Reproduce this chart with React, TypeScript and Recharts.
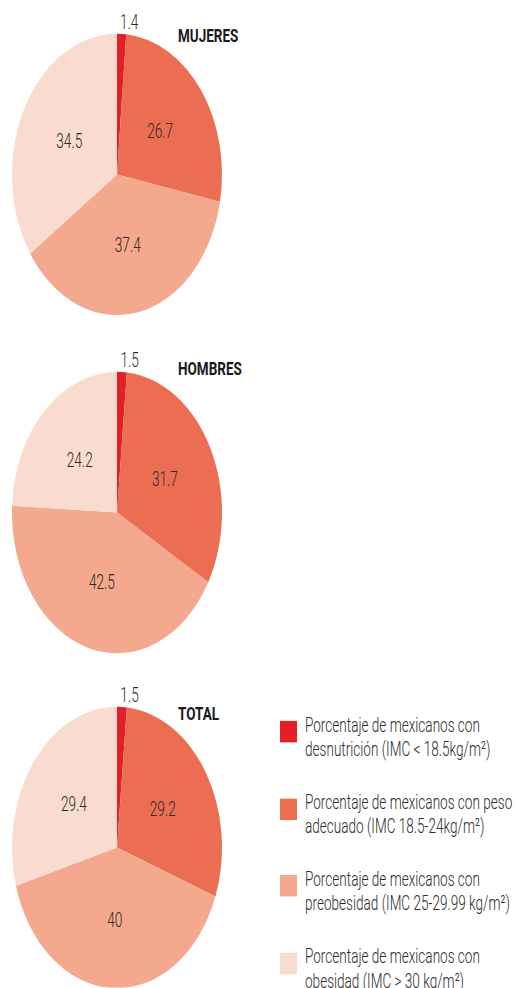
import React from "react";
import { PieChart, Pie, Cell } from "recharts";

const CATEGORIES = ["Desnutrición", "Peso adecuado", "Preobesidad", "Obesidad"];
const COLORS = ["#E41F26", "#EC6E52", "#F4A88D", "#FADBCF"];
const MUJERES = [1.4, 26.7, 37.4, 34.5];
const HOMBRES = [1.5, 31.7, 42.5, 24.2];
const TOTAL = [1.5, 29.2, 40, 29.4];
const PANEL_TITLES = ["MUJERES", "HOMBRES", "TOTAL"];
const LEGEND_LINES = [
  ["Porcentaje de mexicanos con", "desnutrición (IMC < 18.5kg/m²)"],
  ["Porcentaje de mexicanos con peso", "adecuado (IMC 18.5-24kg/m²)"],
  ["Porcentaje de mexicanos con", "preobesidad (IMC 25-29.99 kg/m²)"],
  ["Porcentaje de mexicanos con", "obesidad (IMC > 30 kg/m²)"],
];

// picture is stretched vertically; draw flat and scale the whole thing
const SY = 1.34;
const W = 515;
const H = 988 / SY;
const FONT = "Roboto, 'Noto Sans', sans-serif";
const PIE_CY = [130.2, 382.5, 632.5];
const TITLE_TOP = [20.3, 268.8, 525.5];

const toRows = (values: number[]) =>
  values.map((v, i) => ({ name: CATEGORIES[i], value: v }));

const panels = [MUJERES, HOMBRES, TOTAL].map(toRows);

const RAD = Math.PI / 180;

const renderLabel = (props: any) => {
  const { cx, cy, midAngle, outerRadius, value, index } = props;
  let x: number;
  let y: number;
  let anchor: "start" | "middle" = "middle";
  if (index === 0) {
    const r = outerRadius + 9;
    x = cx + r * Math.cos(-midAngle * RAD) - 2;
    y = cy + r * Math.sin(-midAngle * RAD);
    anchor = "start";
  } else {
    const r = 54;
    x = cx + r * Math.cos(-midAngle * RAD);
    y = cy + r * Math.sin(-midAngle * RAD);
  }
  return (
    <text
      transform={`translate(${x},${y}) scale(0.88,1)`}
      x={0}
      y={0}
      textAnchor={anchor}
      dominantBaseline="central"
      fontFamily={FONT}
      fontWeight={300}
      fontSize={15.5}
      fill="#2b2b2b"
    >
      {value}
    </text>
  );
};

export default function App() {
  return (
    <div
      style={{
        position: "absolute",
        left: 0,
        top: 0,
        width: W,
        height: 988,
        overflow: "hidden",
        background: "#fff",
      }}
    >
      <div
        style={{
          position: "relative",
          width: W,
          height: H,
          transform: `scale(1, ${SY})`,
          transformOrigin: "0 0",
        }}
      >
        <PieChart width={W} height={H} margin={{ top: 0, right: 0, bottom: 0, left: 0 }}>
          {panels.map((rows, p) => (
            <Pie
              key={PANEL_TITLES[p]}
              data={rows}
              dataKey="value"
              nameKey="name"
              cx={117}
              cy={PIE_CY[p]}
              outerRadius={105}
              startAngle={90}
              endAngle={-270}
              stroke="none"
              labelLine={false}
              label={renderLabel}
              isAnimationActive={false}
            >
              {rows.map((r, i) => (
                <Cell key={r.name} fill={COLORS[i]} />
              ))}
            </Pie>
          ))}
        </PieChart>

        {PANEL_TITLES.map((t, i) => (
          <div
            key={t}
            style={{
              position: "absolute",
              left: 178,
              top: TITLE_TOP[i],
              fontFamily: FONT,
              fontWeight: 700,
              fontSize: 13.5,
              lineHeight: 1,
              color: "#1a1a1a",
            }}
          >
            {t}
          </div>
        ))}

        {LEGEND_LINES.map((lines, i) => (
          <div
            key={i}
            style={{
              position: "absolute",
              left: 280,
              top: 532 + i * 57.5,
              display: "flex",
              alignItems: "flex-start",
            }}
          >
            <div
              style={{
                width: 17,
                height: 16,
                marginTop: 6,
                background: COLORS[i],
                flex: "none",
              }}
            />
            <div
              style={{
                marginLeft: 8,
                fontFamily: FONT,
                fontWeight: 300,
                fontSize: 15.5,
                lineHeight: "18px",
                color: "#2b2b2b",
                whiteSpace: "nowrap",
                transform: "scale(0.875, 1)",
                transformOrigin: "0 0",
              }}
            >
              {lines.map((l) => (
                <div key={l}>{l}</div>
              ))}
            </div>
          </div>
        ))}
      </div>
    </div>
  );
}
